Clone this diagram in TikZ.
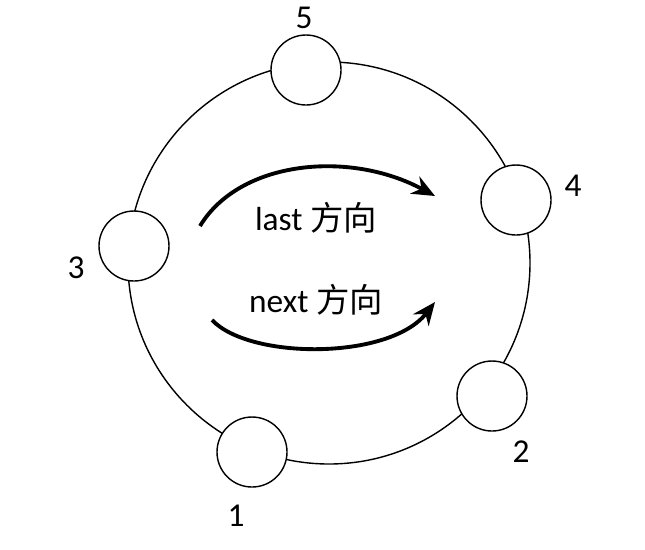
\documentclass[tikz,border=0pt]{standalone}
\usepackage{fontspec}
\setmainfont{Carlito}
\newfontfamily\cjk{Noto Sans CJK SC}
\usetikzlibrary{arrows.meta}
\begin{document}
\begin{tikzpicture}[x=0.02cm, y=-0.02cm, thick,
  every node/.style={font=\fontsize{19}{21}\selectfont},
  flow/.style={-{Stealth[length=13pt,width=11pt]}, line width=2.2pt}]
\useasboundingbox (0,0) rectangle (645,549);

\node[circle, draw, minimum size=402*0.02cm, thick] (ring) at (329,263) {};

\node[circle, draw, fill=white, minimum width=70*0.02cm] (n5) at (306,70) {};
\node[circle, draw, fill=white, minimum width=70*0.02cm] (n4) at (516,200) {};
\node[circle, draw, fill=white, minimum width=70*0.02cm] (n3) at (134,246) {};
\node[circle, draw, fill=white, minimum width=70*0.02cm] (n2) at (492,396) {};
\node[circle, draw, fill=white, minimum width=70*0.02cm] (n1) at (252,452) {};

\node (l5) at (304,18) {5};
\node (l4) at (573,186) {4};
\node (l3) at (76,268) {3};
\node (l2) at (521,452) {2};
\node (l1) at (236,516) {1};

\coordinate (a1) at (200,226);
\coordinate (a2) at (435,196);
\coordinate (b1) at (212,320);
\coordinate (b2) at (435,302);
\draw[flow] (a1) .. controls (240,160) and (350,150) .. (a2);
\draw[flow] (b1) .. controls (250,360) and (390,360) .. (b2);

\node (last) at (316,218) {last {\cjk 方向}};
\node (next) at (316,300) {next {\cjk 方向}};
\end{tikzpicture}
\end{document}
